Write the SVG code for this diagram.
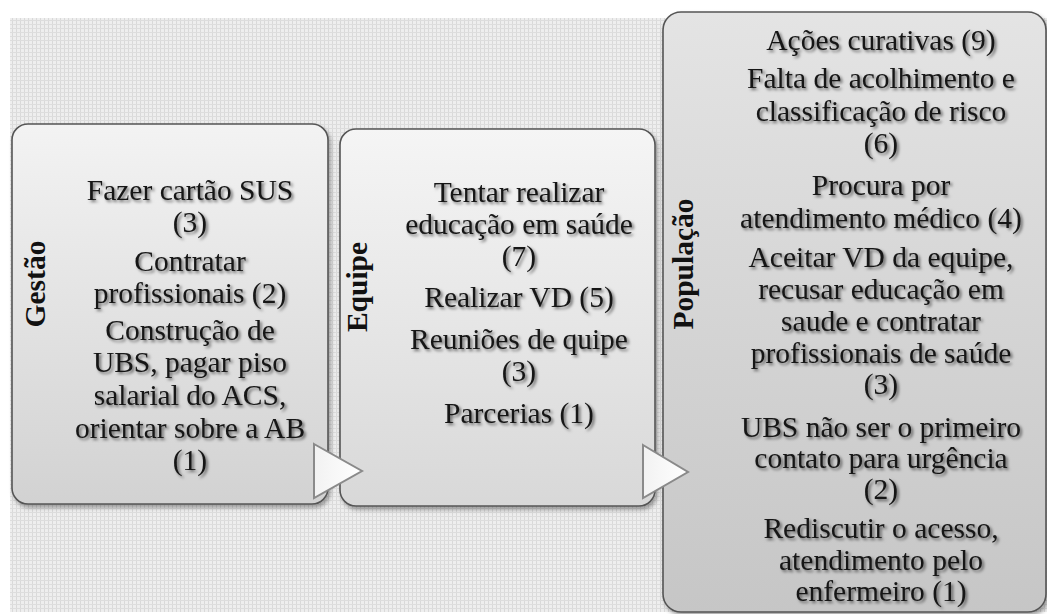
<svg xmlns="http://www.w3.org/2000/svg" width="1047" height="614" viewBox="0 0 1047 614">
  <defs>
    <pattern id="bgpat" width="4" height="4" patternUnits="userSpaceOnUse">
      <rect width="4" height="4" fill="#eeeeee"/>
      <rect x="0" y="0" width="1" height="4" fill="#d9d9d9"/>
      <rect x="0" y="0" width="4" height="1" fill="#dddddd"/>
    </pattern>
    <linearGradient id="g1" x1="0" y1="0" x2="0" y2="1">
      <stop offset="0" stop-color="#f3f3f3"/>
      <stop offset="1" stop-color="#d2d2d2"/>
    </linearGradient>
    <linearGradient id="g2" x1="0" y1="0" x2="0" y2="1">
      <stop offset="0" stop-color="#f5f5f5"/>
      <stop offset="1" stop-color="#d8d8d8"/>
    </linearGradient>
    <linearGradient id="g3" x1="0" y1="0" x2="0" y2="1">
      <stop offset="0" stop-color="#e4e4e4"/>
      <stop offset="1" stop-color="#c6c6c6"/>
    </linearGradient>
    <linearGradient id="gt" x1="0" y1="0" x2="1" y2="0">
      <stop offset="0" stop-color="#f2f2f2"/>
      <stop offset="1" stop-color="#ffffff"/>
    </linearGradient>
    <filter id="boxsh" x="-5%" y="-5%" width="112%" height="112%">
      <feDropShadow dx="2" dy="3" stdDeviation="2" flood-color="#000" flood-opacity="0.35"/>
    </filter>
    <filter id="txtsh" x="-10%" y="-20%" width="120%" height="160%">
      <feDropShadow dx="2" dy="2" stdDeviation="1.6" flood-color="#000" flood-opacity="0.55"/>
    </filter>
  </defs>
  <style>
    .box { stroke: #555555; stroke-width: 1.6; }
    .tri { fill: url(#gt); stroke: #8a8a8a; stroke-width: 2; stroke-linejoin: miter; }
    .t { font-family: "Liberation Serif", "Times New Roman", serif; font-size: 29.5px; fill: #151515; text-anchor: middle; filter: url(#txtsh); }
    .lbl { font-family: "Liberation Serif", "Times New Roman", serif; font-size: 29.5px; font-weight: bold; fill: #111111; text-anchor: middle; }
  </style>

  <rect x="10" y="18" width="1037" height="594" fill="url(#bgpat)"/>

  <g id="gestao">
    <rect class="box" x="12" y="124" width="316" height="380" rx="16" fill="url(#g1)" filter="url(#boxsh)"/>
    <text class="lbl" transform="translate(45,284) rotate(-90)">Gestão</text>
    <text class="t" x="190" y="200">Fazer cartão SUS</text>
    <text class="t" x="190" y="232">(3)</text>
    <text class="t" x="190" y="271">Contratar</text>
    <text class="t" x="190" y="303">profissionais (2)</text>
    <text class="t" x="190" y="340">Construção de</text>
    <text class="t" x="190" y="372">UBS, pagar piso</text>
    <text class="t" x="190" y="405">salarial do ACS,</text>
    <text class="t" x="190" y="438">orientar sobre a AB</text>
    <text class="t" x="190" y="470">(1)</text>
  </g>

  <g id="equipe">
    <rect class="box" x="340" y="129" width="315" height="377" rx="16" fill="url(#g2)" filter="url(#boxsh)"/>
    <text class="lbl" transform="translate(367,287) rotate(-90)">Equipe</text>
    <text class="t" x="519" y="202">Tentar realizar</text>
    <text class="t" x="519" y="234">educação em saúde</text>
    <text class="t" x="519" y="266">(7)</text>
    <text class="t" x="519" y="307">Realizar VD (5)</text>
    <text class="t" x="519" y="349">Reuniões de quipe</text>
    <text class="t" x="519" y="381">(3)</text>
    <text class="t" x="519" y="423">Parcerias (1)</text>
  </g>

  <g id="populacao">
    <rect class="box" x="663" y="12" width="383" height="600" rx="18" fill="url(#g3)" filter="url(#boxsh)"/>
    <text class="lbl" transform="translate(693,264) rotate(-90)">População</text>
    <text class="t" x="881" y="50">Ações curativas (9)</text>
    <text class="t" x="881" y="88">Falta de acolhimento e</text>
    <text class="t" x="881" y="121">classificação de risco</text>
    <text class="t" x="881" y="153">(6)</text>
    <text class="t" x="881" y="195">Procura por</text>
    <text class="t" x="881" y="228">atendimento médico (4)</text>
    <text class="t" x="881" y="267">Aceitar VD da equipe,</text>
    <text class="t" x="881" y="299">recusar educação em</text>
    <text class="t" x="881" y="331">saude e contratar</text>
    <text class="t" x="881" y="363">profissionais de saúde</text>
    <text class="t" x="881" y="394">(3)</text>
    <text class="t" x="881" y="437">UBS não ser o primeiro</text>
    <text class="t" x="881" y="468">contato para urgência</text>
    <text class="t" x="881" y="499">(2)</text>
    <text class="t" x="881" y="538">Rediscutir o acesso,</text>
    <text class="t" x="881" y="570">atendimento pelo</text>
    <text class="t" x="881" y="601">enfermeiro (1)</text>
  </g>

  <g id="connectors">
    <polygon class="tri" points="314,444 362,471 314,498"/>
    <polygon class="tri" points="643,445 688,472 643,498"/>
  </g>
</svg>
